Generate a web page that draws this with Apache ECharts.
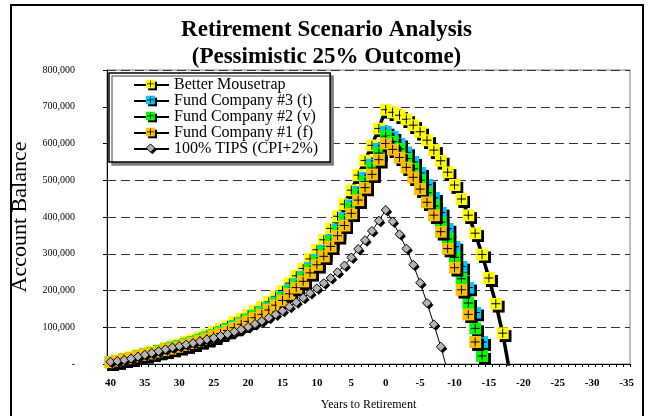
<!DOCTYPE html>
<html>
<head>
<meta charset="utf-8">
<title>Retirement Scenario Analysis</title>
<script src="https://cdn.jsdelivr.net/npm/echarts@6/dist/echarts.min.js"></script>
<style>
  html, body { margin: 0; padding: 0; background: #fff; }
  #chart { width: 653px; height: 416px; }
</style>
</head>
<body>
<div id="chart"></div>
<script>
// years to retirement, left to right
const years = ['40', '39', '38', '37', '36', '35', '34', '33', '32', '31',
  '30', '29', '28', '27', '26', '25', '24', '23', '22', '21',
  '20', '19', '18', '17', '16', '15', '14', '13', '12', '11',
  '10', '9', '8', '7', '6', '5', '4', '3', '2', '1',
  '0', '-1', '-2', '-3', '-4', '-5', '-6', '-7', '-8', '-9',
  '-10', '-11', '-12', '-13', '-14', '-15', '-16', '-17', '-18', '-19',
  '-20', '-21', '-22', '-23', '-24', '-25', '-26', '-27', '-28', '-29',
  '-30', '-31', '-32', '-33', '-34', '-35'];

const seriesNames = ['Better Mousetrap', 'Fund Company #3 (t)', 'Fund Company #2 (v)',
  'Fund Company #1 (f)', '100% TIPS (CPI+2%)'];

// account balance, $
const mousetrap = [6000, 10000, 15000, 19000, 24000, 29000, 34000, 39000, 44000, 49000,
  54000, 60000, 66000, 73000, 80000, 88000, 96000, 105000, 114000, 124000,
  134000, 145000, 156000, 169000, 184000, 200000, 220000, 240000, 260000, 286000,
  311000, 338000, 369000, 402000, 435000, 473000, 514000, 554000, 595000, 641000,
  692000, 685000, 677000, 666000, 650000, 632000, 609000, 582000, 553000, 522000,
  487000, 449000, 405000, 356000, 298000, 234000, 164000, 84000, -20000, null,
  null, null, null, null, null, null, null, null, null, null,
  null, null, null, null, null, null];

const fund3 = [5000, 9000, 14000, 17000, 22000, 26000, 31000, 36000, 40000, 45000,
  49000, 55000, 60000, 67000, 73000, 80000, 88000, 96000, 104000, 113000,
  122000, 132000, 142000, 154000, 168000, 183000, 201000, 219000, 237000, 261000,
  284000, 309000, 337000, 367000, 397000, 432000, 469000, 506000, 543000, 585000,
  632000, 618000, 600000, 576000, 550000, 520000, 488000, 452000, 412000, 368000,
  319000, 265000, 208000, 140000, 60000, -30000, null, null, null, null,
  null, null, null, null, null, null, null, null, null, null,
  null, null, null, null, null, null];

const fund2 = [5000, 9000, 13000, 17000, 22000, 26000, 30000, 35000, 39000, 44000,
  48000, 54000, 59000, 65000, 72000, 79000, 86000, 94000, 102000, 111000,
  120000, 130000, 140000, 151000, 165000, 179000, 197000, 215000, 233000, 256000,
  279000, 303000, 331000, 360000, 390000, 424000, 461000, 496000, 533000, 574000,
  620000, 605000, 585000, 559000, 531000, 500000, 466000, 430000, 386000, 340000,
  290000, 232000, 166000, 97000, 22000, -60000, null, null, null, null,
  null, null, null, null, null, null, null, null, null, null,
  null, null, null, null, null, null];

const fund1 = [5000, 9000, 13000, 16000, 21000, 25000, 29000, 34000, 38000, 42000,
  47000, 52000, 57000, 63000, 69000, 76000, 83000, 91000, 99000, 108000,
  116000, 126000, 135000, 147000, 160000, 173000, 191000, 208000, 225000, 248000,
  270000, 293000, 320000, 349000, 377000, 410000, 446000, 480000, 516000, 556000,
  600000, 584000, 562000, 535000, 508000, 476000, 440000, 405000, 360000, 314000,
  262000, 202000, 135000, 60000, -25000, null, null, null, null, null,
  null, null, null, null, null, null, null, null, null, null,
  null, null, null, null, null, null];

const tips = [6000, 8000, 11000, 15000, 20000, 25000, 30000, 35000, 40000, 45000,
  49000, 53000, 57000, 62000, 67000, 71000, 76000, 82000, 88000, 94000,
  101000, 109000, 117000, 126000, 135000, 145000, 156000, 168000, 180000, 193000,
  206000, 220000, 234000, 250000, 268000, 290000, 313000, 337000, 362000, 390000,
  419000, 388000, 353000, 314000, 270000, 221000, 166000, 108000, 47000, -20000,
  null, null, null, null, null, null, null, null, null, null,
  null, null, null, null, null, null, null, null, null, null,
  null, null, null, null, null, null];

const FONT = '"Liberation Serif", "Times New Roman", serif';

// square marker with a plus and a hard shadow, like the Excel ones
function squareMarker(color) {
  const svg = "<svg xmlns='http://www.w3.org/2000/svg' width='15' height='15' viewBox='0 0 15 15'>" +
    "<rect x='3' y='3' width='12' height='12' fill='#000'/>" +
    "<rect x='0' y='0' width='12' height='12' fill='" + color + "'/>" +
    "<rect x='5.5' y='1.5' width='1' height='9' fill='#000'/>" +
    "<rect x='1.5' y='5.5' width='9' height='1' fill='#000'/>" +
    "</svg>";
  return 'image://data:image/svg+xml;charset=utf-8,' + encodeURIComponent(svg);
}

function diamondMarker() {
  const svg = "<svg xmlns='http://www.w3.org/2000/svg' width='12' height='12' viewBox='0 0 12 12'>" +
    "<polygon points='7,2.5 11.5,7 7,11.5 2.5,7' fill='#000'/>" +
    "<polygon points='5,0.5 9.5,5 5,9.5 0.5,5' fill='#b4b4b4' stroke='#000' stroke-width='1'/>" +
    "</svg>";
  return 'image://data:image/svg+xml;charset=utf-8,' + encodeURIComponent(svg);
}

function thousands(v) {
  if (v === 0) return '-';
  return String(v).replace(/\B(?=(\d{3})+(?!\d))/g, ',');
}

function fundSeries(name, data, color, lineWidth) {
  return {
    name: name,
    type: 'line',
    data: data,
    symbol: squareMarker(color),
    symbolSize: 15,
    symbolOffset: [1.5, 1.5],
    showAllSymbol: true,
    itemStyle: { color: color },
    lineStyle: { color: '#000', width: lineWidth },
    emphasis: { disabled: true }
  };
}

const chart = echarts.init(document.getElementById('chart'));
const option = {
  animation: false,
  backgroundColor: '#fff',
  title: {
    text: 'Retirement Scenario Analysis\n(Pessimistic 25% Outcome)',
    left: 'center',
    top: 17,
    padding: [0, 0, 0, 27],
    textStyle: {
      fontFamily: FONT,
      fontSize: 23,
      fontWeight: 'bold',
      lineHeight: 27,
      color: '#000'
    }
  },
  legend: {
    orient: 'vertical',
    left: 109,
    top: 73,
    itemWidth: 35,
    itemHeight: 14,
    itemGap: 0,
    padding: [4, 12, 5, 24],
    backgroundColor: '#fff',
    borderColor: '#000',
    borderWidth: 1.5,
    shadowColor: '#808080',
    shadowOffsetX: 3,
    shadowOffsetY: 3,
    shadowBlur: 0,
    textStyle: { fontFamily: FONT, fontSize: 16, lineHeight: 15.75, color: '#000' },
    data: seriesNames
  },
  grid: {
    left: 107,
    right: 23,
    top: 70,
    bottom: 52,
    show: true,
    borderColor: '#808080',
    borderWidth: 1
  },
  xAxis: {
    type: 'category',
    data: years,
    boundaryGap: true,
    name: 'Years to Retirement',
    nameLocation: 'middle',
    nameGap: 35,
    nameTextStyle: { fontFamily: FONT, fontSize: 12, color: '#000' },
    axisLine: { lineStyle: { color: '#000', width: 1 } },
    axisTick: { show: true, interval: 0, length: 3, lineStyle: { color: '#000' } },
    axisLabel: {
      interval: 4,
      margin: 14,
      fontFamily: FONT,
      fontSize: 11,
      fontWeight: 'bold',
      color: '#000'
    },
    splitLine: { show: false }
  },
  yAxis: {
    type: 'value',
    min: 0,
    max: 800000,
    interval: 100000,
    name: 'Account Balance',
    nameLocation: 'middle',
    nameRotate: 90,
    nameGap: 61,
    nameTextStyle: { fontFamily: FONT, fontSize: 22, color: '#000' },
    axisLine: { show: true, lineStyle: { color: '#000', width: 1 } },
    axisTick: { show: true, length: 4, lineStyle: { color: '#000' } },
    axisLabel: {
      margin: 32,
      fontFamily: FONT,
      fontSize: 10,
      color: '#000',
      formatter: thousands
    },
    splitLine: { show: true, lineStyle: { color: '#333', width: 1, type: [9, 5] } }
  },
  graphic: [{
    type: 'rect',
    silent: true,
    shape: { x: 11, y: 5, width: 632, height: 430 },
    style: { fill: 'none', stroke: '#000', lineWidth: 2 }
  }],
  series: [
    fundSeries(seriesNames[0], mousetrap, '#FFFF00', 3.5),
    fundSeries(seriesNames[1], fund3, '#00C8F8', 1),
    fundSeries(seriesNames[2], fund2, '#00FF00', 1),
    fundSeries(seriesNames[3], fund1, '#FFC000', 1),
    {
      name: seriesNames[4],
      type: 'line',
      data: tips,
      symbol: diamondMarker(),
      symbolSize: 12,
      symbolOffset: [1, 1],
      showAllSymbol: true,
      itemStyle: { color: '#b4b4b4' },
      lineStyle: { color: '#000', width: 1 },
      emphasis: { disabled: true }
    }
  ]
};
chart.setOption(option);
</script>
</body>
</html>
